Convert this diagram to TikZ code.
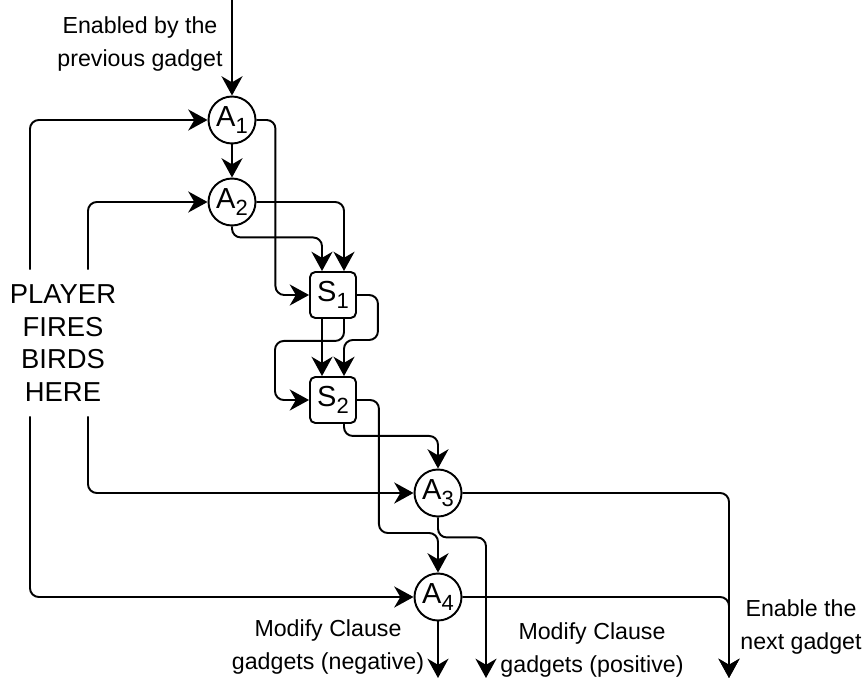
\documentclass[tikz,border=0pt]{standalone}
\usepackage{fontspec}
\setmainfont{Liberation Sans}
\usetikzlibrary{arrows.meta,calc}

\newcommand{\gsub}[1]{\raisebox{-0.22em}{\fontsize{12.5}{12.5}\selectfont #1}}

\begin{document}
\begin{tikzpicture}[x=0.02cm, y=-0.02cm, line width=1.1pt,
  every node/.style={font=\fontsize{13.2}{18.5}\selectfont, align=center},
  gate/.style={draw, circle, minimum size=0.94cm, inner sep=0pt, font=\fontsize{16.5}{16.5}\selectfont},
  sgate/.style={draw, rounded corners=3pt, minimum size=0.92cm, inner sep=0pt, font=\fontsize{16.5}{16.5}\selectfont},
  arr/.style={-{Stealth[length=11pt,width=12pt,inset=3.5pt]}, rounded corners=5pt}]
\useasboundingbox (0,0) rectangle (866,679);

% gadget nodes
\node[gate] (a1) at (232,120) {A\gsub{1}};
\node[gate] (a2) at (232,202) {A\gsub{2}};
\node[sgate] (s1) at (333,295) {S\gsub{1}};
\node[sgate] (s2) at (333,400) {S\gsub{2}};
\node[gate] (a3) at (438,493) {A\gsub{3}};
\node[gate] (a4) at (438,597) {A\gsub{4}};

% texts
\node (prev) at (140,44) {Enabled by the\\previous gadget};
\node[font=\fontsize{15.6}{18.6}\selectfont, inner ysep=8pt] (player) at (63,343) {PLAYER\\FIRES\\BIRDS\\HERE};
\node (neg) at (328,647) {Modify Clause\\gadgets (negative)};
\node (pos) at (592,650) {Modify Clause\\gadgets (positive)};
\node (next) at (801,627) {Enable the\\next gadget};

\coordinate (in) at (232,0);
\coordinate (outer) at (30,0);
\coordinate (inner) at (88,0);
\coordinate (negout) at (438,678);
\coordinate (posout) at (486,678);
\coordinate (nextout) at (729,678);

% enabling chain
\draw[arr] (in) -- (a1);
\draw[arr] (a1) -- (a2);

% birds fired by the player
\draw[arr] (outer |- player.north) |- (a1.west);
\draw[arr] (inner |- player.north) |- (a2.west);
\draw[arr] (inner |- player.south) |- (a3.west);
\draw[arr] (outer |- player.south) |- (a4.west);

% into S1
\draw[arr] (a1.east) -- ++(19,0) |- (s1.west);
\draw[arr] (a2.east) -| ($(s1.north)+(11,0)$);
\draw[arr] (a2.south) -- ++(0,11) -| ($(s1.north)+(-11,0)$);

% S1 to S2
\draw[arr] ($(s1.south)+(-11,0)$) -- ($(s2.north)+(-11,0)$);
\draw[arr] ($(s1.south)+(11,0)$) -- ++(0,22) -- ++(-69,0) |- (s2.west);
\draw[arr] (s1.east) -- ++(21,0) -- ++(0,45) -| ($(s2.north)+(11,0)$);

% S2 to A3 and A4
\draw[arr] (s2.east) -- ++(22,0) -- ++(0,133) -| (a4.north);
\draw[arr] ($(s2.south)+(11,0)$) -- ++(0,12) -| (a3.north);

% outputs
\draw[arr] (a3.east) -| (nextout);
\draw[arr] (a4.east) -| (nextout);
\draw[arr] (a3.south) -- ++(0,20) -| (posout);
\draw[arr] (a4.south) -- (negout);
\end{tikzpicture}
\end{document}
